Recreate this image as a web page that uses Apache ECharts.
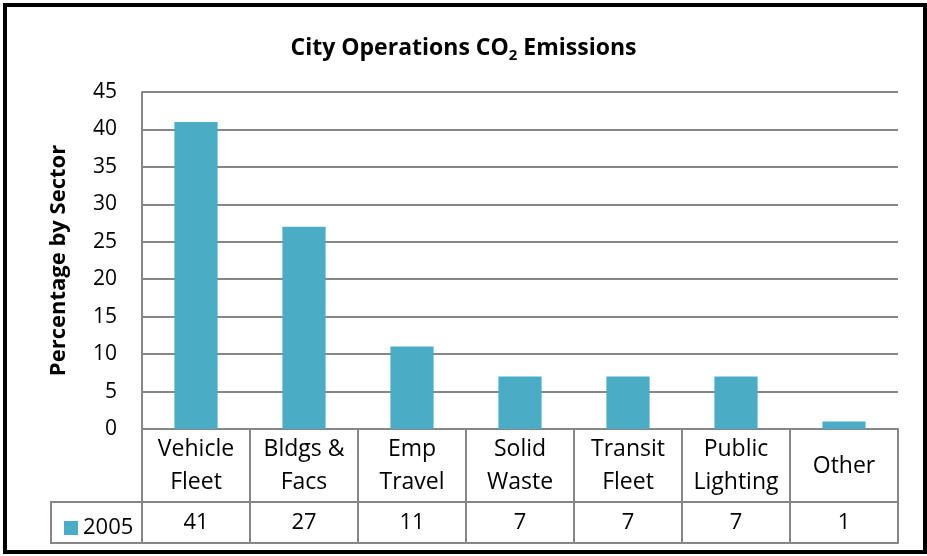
<!DOCTYPE html>
<html>
<head>
<meta charset="utf-8">
<script src="https://cdn.jsdelivr.net/npm/echarts@6/dist/echarts.min.js"></script>
<style>
    html, body { margin: 0; padding: 0; background: #fff; }
    #main { width: 927px; height: 556px; }
</style>
</head>
<body>
<div id="main"></div>
<script>
var categories = ["Vehicle\nFleet", "Bldgs &\nFacs", "Emp\nTravel", "Solid\nWaste", "Transit\nFleet", "Public\nLighting", "Other"];
var values2005 = [41, 27, 11, 7, 7, 7, 1];
var seriesName = "2005";
var yTicks = { min: 0, max: 45, interval: 5 };

(function () {
    var myChart = echarts.init(document.getElementById('main'));
    var font = '"Open Sans", Lato, sans-serif';
    var gridColor = '#868686';
    var barColor = '#4BACC6';

    var option = {
        backgroundColor: '#fff',
        animation: false,
        textStyle: { fontFamily: font },
        title: {
            text: 'City Operations CO{sub|2} Emissions',
            left: 'center',
            top: 28,
            textStyle: {
                fontFamily: font,
                fontSize: 23,
                fontWeight: 'bold',
                color: '#000',
                rich: {
                    sub: { fontFamily: font, fontSize: 15, fontWeight: 'bold', color: '#000', padding: [15, 0, 0, 0] }
                }
            }
        },
        legend: {
            data: [seriesName],
            left: 59,
            top: 512,
            itemWidth: 14,
            itemHeight: 14,
            itemGap: 4,
            icon: 'rect',
            textStyle: { fontFamily: font, fontSize: 22, color: '#000', padding: [0, 0, 0, 0] }
        },
        grid: {
            left: 142,
            right: 29,
            top: 92,
            bottom: 127
        },
        xAxis: [
            {
                type: 'category',
                data: categories,
                position: 'bottom',
                axisLine: { show: true, lineStyle: { color: gridColor, width: 2 } },
                axisTick: { show: true, length: 114, alignWithLabel: false, lineStyle: { color: gridColor, width: 2 } },
                axisLabel: {
                    color: '#000',
                    fontSize: 23,
                    lineHeight: 33,
                    margin: 37,
                    verticalAlign: 'middle',
                    interval: 0
                }
            },
            {
                type: 'category',
                data: values2005.map(String),
                position: 'bottom',
                offset: 73,
                axisLine: { show: true, lineStyle: { color: gridColor, width: 2 } },
                axisTick: { show: false },
                axisLabel: {
                    color: '#000',
                    fontSize: 22,
                    margin: 21,
                    verticalAlign: 'middle',
                    interval: 0
                }
            },
            {
                type: 'category',
                data: values2005.map(String),
                position: 'bottom',
                offset: 114,
                axisLine: { show: true, lineStyle: { color: gridColor, width: 2 } },
                axisTick: { show: false },
                axisLabel: { show: false }
            }
        ],
        yAxis: {
            type: 'value',
            min: yTicks.min,
            max: yTicks.max,
            interval: yTicks.interval,
            name: 'Percentage by Sector',
            nameLocation: 'middle',
            nameGap: 72,
            nameTextStyle: { fontFamily: font, fontSize: 22, fontWeight: 'bold', color: '#000' },
            axisLine: { show: true, lineStyle: { color: gridColor, width: 2 } },
            axisTick: { show: false },
            axisLabel: { color: '#000', fontSize: 21, margin: 25 },
            splitLine: { show: true, lineStyle: { color: gridColor, width: 2 } }
        },
        series: [
            {
                name: seriesName,
                type: 'bar',
                data: values2005,
                barWidth: '40%',
                itemStyle: { color: barColor }
            }
        ],
        graphic: [
            {
                // outer chart border
                type: 'rect',
                shape: { x: 5, y: 5, width: 920, height: 547 },
                style: { fill: 'none', stroke: '#000', lineWidth: 4 },
                silent: true
            },
            {
                // legend cell of the data table
                type: 'rect',
                shape: { x: 51, y: 502, width: 91, height: 41 },
                style: { fill: 'none', stroke: gridColor, lineWidth: 2 },
                silent: true
            }
        ]
    };

    myChart.setOption(option);
    window.addEventListener("resize", function () {
        myChart.resize();
    });
})();
</script>
</body>
</html>
